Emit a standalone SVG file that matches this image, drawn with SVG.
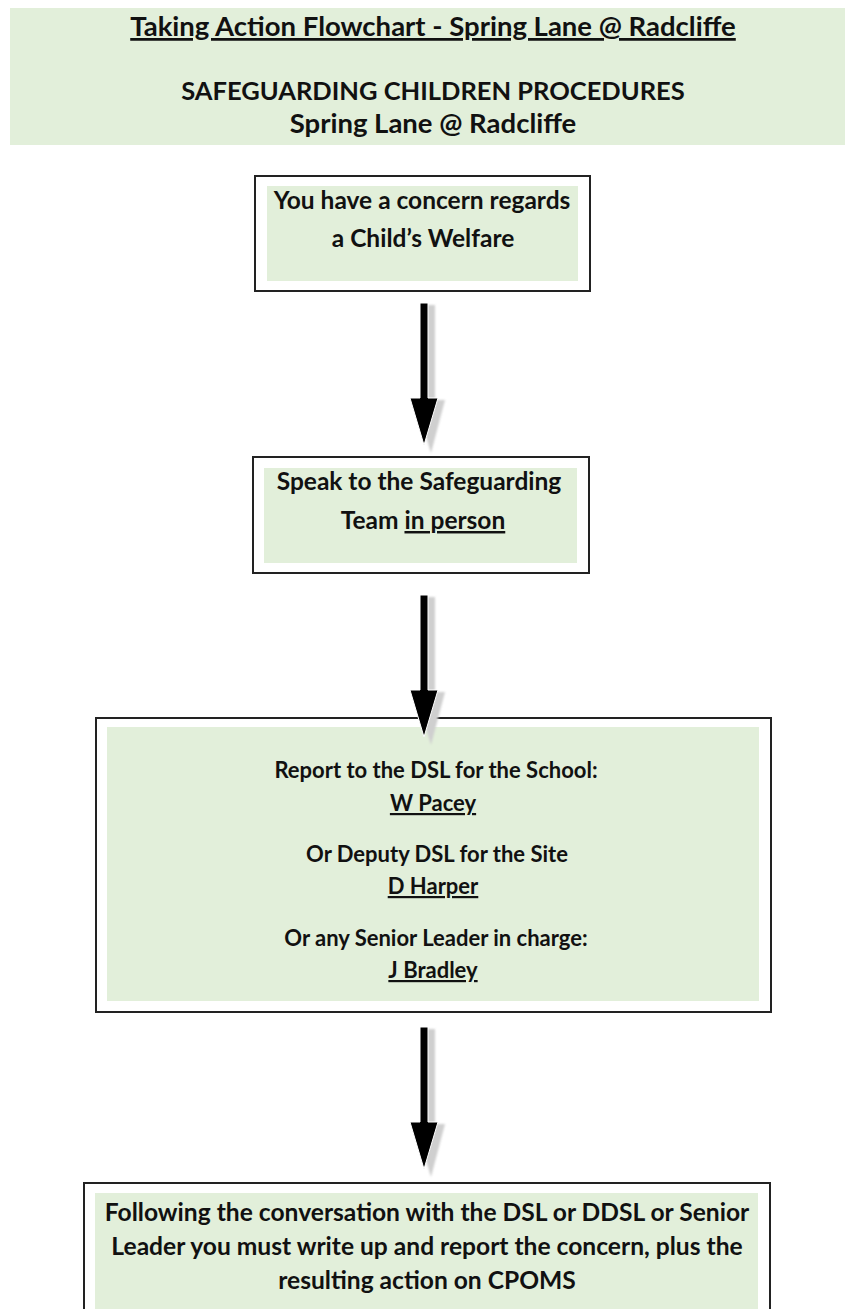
<svg xmlns="http://www.w3.org/2000/svg" width="845" height="1309" viewBox="0 0 845 1309">
<defs>
<style>
text{font-family:Lato,"Liberation Sans",sans-serif;font-weight:700;fill:#111;text-anchor:middle}
.t1{font-size:24.5px}
.t3{font-size:22px}
.t4{font-size:24.6px}
.u{text-decoration:underline}
.box{fill:#fff;stroke:#222;stroke-width:2}
.fill{fill:#e2efda}
.arr{fill:#000;stroke:#fff;stroke-width:1}
.sh{fill:#cfcfcf;filter:url(#blur)}
</style>
<filter id="blur" x="-50%" y="-20%" width="200%" height="140%"><feGaussianBlur stdDeviation="1.2"/></filter>
<symbol id="arrow" overflow="visible">
<path class="sh" d="M-2,2 H8 V97 H18 L4,150 L-12,97 H-2 Z" transform="translate(3,0)"/>
<path class="arr" d="M-4,0 H4 V95 H14 L0,142 L-14,95 H-4 Z"/>
</symbol>
</defs>
<rect width="845" height="1309" fill="#fff"/>
<g id="header">
<rect class="fill" x="10" y="8" width="835" height="137"/>
<text class="u" x="433" y="36" font-size="27.5">Taking Action Flowchart - Spring Lane @ Radcliffe</text>
<text x="433" y="100" font-size="25.5">SAFEGUARDING CHILDREN PROCEDURES</text>
<text x="433" y="133" font-size="27.5">Spring Lane @ Radcliffe</text>
</g>
<g id="node1">
<rect class="box" x="255" y="176" width="335" height="115"/>
<rect class="fill" x="267" y="186" width="311" height="95"/>
<text class="t1" x="422" y="209">You have a concern regards</text>
<text class="t1" x="423" y="247">a Child’s Welfare</text>
</g>
<g id="node2">
<rect class="box" x="253" y="457" width="336" height="116"/>
<rect class="fill" x="264" y="468" width="313" height="95"/>
<text class="t1" x="419" y="490">Speak to the Safeguarding</text>
<text class="t1" x="423" y="529">Team <tspan class="u">in person</tspan></text>
</g>
<g id="node3">
<rect class="box" x="96" y="718" width="675" height="294"/>
<rect class="fill" x="107" y="727" width="652" height="274"/>
<text class="t3" x="436" y="778">Report to the DSL for the School:</text>
<text class="t3 u" x="433" y="811">W Pacey</text>
<text class="t3" x="437" y="862">Or Deputy DSL for the Site</text>
<text class="t3 u" x="433" y="894">D Harper</text>
<text class="t3" x="436" y="946">Or any Senior Leader in charge:</text>
<text class="t3 u" x="433" y="978">J Bradley</text>
</g>
<g id="node4">
<rect class="box" x="84" y="1183" width="686" height="140"/>
<rect class="fill" x="95" y="1193" width="663" height="120"/>
<text class="t4" x="427" y="1221">Following the conversation with the DSL or DDSL or Senior</text>
<text class="t4" x="427" y="1255">Leader you must write up and report the concern, plus the</text>
<text class="t4" x="427" y="1289">resulting action on CPOMS</text>
</g>
<g id="connectors">
<use href="#arrow" x="424" y="303"/>
<use href="#arrow" x="424" y="595"/>
<use href="#arrow" x="424" y="1027"/>
</g>
</svg>
